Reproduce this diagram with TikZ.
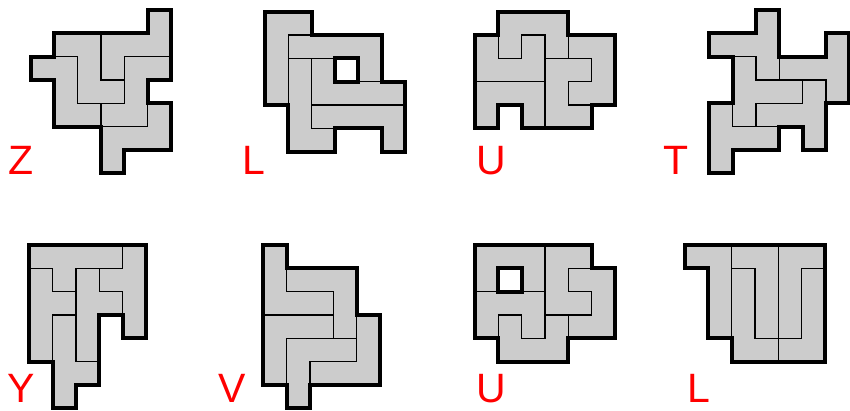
\documentclass[tikz,border=0pt]{standalone}
\usepackage{fontspec}
\setmainfont{Liberation Sans}
\newcommand*{\sq}{23.33pt}

\begin{document}
\begin{tikzpicture}[x=1pt,y=-1pt]
\tikzset{piece/.style={fill=black!20,draw=black,line width=1.5pt,line join=miter},
  rim/.style={draw=black,line width=4pt,line join=miter},
  lbl/.style={text=red,font=\fontsize{41}{41}\selectfont,anchor=base,inner sep=0pt}};

    \useasboundingbox (0,0) rectangle (850,411);

    % Z
    \begin{scope}[shift={(31pt,-10pt)},x=\sq,y=-\sq]
    \draw[piece] (5,0)--(6,0)--(6,2)--(4,2)--(4,3)--(3,3)--(3,1)--(5,1)--cycle;
    \draw[piece] (1,1)--(3,1)--(3,3)--(4,3)--(4,4)--(2,4)--(2,2)--(1,2)--cycle;
    \draw[piece] (0,2)--(2,2)--(2,4)--(3,4)--(3,5)--(1,5)--(1,3)--(0,3)--cycle;
    \draw[piece] (4,2)--(6,2)--(6,3)--(5,3)--(5,5)--(3,5)--(3,4)--(4,4)--cycle;
    \draw[piece] (5,4)--(6,4)--(6,6)--(4,6)--(4,7)--(3,7)--(3,5)--(5,5)--cycle;
    \draw[rim] (5,0)--(6,0)--(6,3)--(5,3)--(5,4)--(6,4)--(6,6)--(4,6)--(4,7)--(3,7)--(3,5)
        --(1,5)--(1,3)--(0,3)--(0,2)--(1,2)--(1,1)--(5,1)--cycle;
    \end{scope}
    \node[lbl] (labZ) at (21,175) {Z};

    % L
    \begin{scope}[shift={(265pt,-11.7pt)},x=\sq,y=-\sq]
    \draw[piece] (0,0)--(2,0)--(2,1)--(1,1)--(1,4)--(0,4)--cycle;
    \draw[piece] (1,1)--(5,1)--(5,3)--(4,3)--(4,2)--(1,2)--cycle;
    \draw[piece] (1,2)--(2,2)--(2,5)--(3,5)--(3,6)--(1,6)--cycle;
    \draw[piece] (2,2)--(3,2)--(3,3)--(6,3)--(6,4)--(2,4)--cycle;
    \draw[piece] (2,4)--(6,4)--(6,6)--(5,6)--(5,5)--(2,5)--cycle;
    \draw[rim,fill=white] (3,2) rectangle (4,3);
    \draw[rim] (0,0)--(2,0)--(2,1)--(5,1)--(5,3)--(6,3)--(6,6)--(5,6)--(5,5)--(3,5)--(3,6)
        --(1,6)--(1,4)--(0,4)--cycle;
    \end{scope}
    \node[lbl] (labL) at (253.5,175) {L};

    % U
    \begin{scope}[shift={(475pt,-11.7pt)},x=\sq,y=-\sq]
    \draw[piece] (1,0)--(4,0)--(4,2)--(3,2)--(3,1)--(2,1)--(2,2)--(1,2)--cycle;
    \draw[piece] (0,1)--(1,1)--(1,2)--(2,2)--(2,1)--(3,1)--(3,3)--(0,3)--cycle;
    \draw[piece] (0,3)--(3,3)--(3,5)--(2,5)--(2,4)--(1,4)--(1,5)--(0,5)--cycle;
    \draw[piece] (4,1)--(6,1)--(6,4)--(4,4)--(4,3)--(5,3)--(5,2)--(4,2)--cycle;
    \draw[piece] (3,2)--(5,2)--(5,3)--(4,3)--(4,4)--(5,4)--(5,5)--(3,5)--cycle;
    \draw[rim] (1,0)--(4,0)--(4,1)--(6,1)--(6,4)--(5,4)--(5,5)--(2,5)--(2,4)--(1,4)--(1,5)
        --(0,5)--(0,1)--(1,1)--cycle;
    \end{scope}
    \node[lbl] (labU) at (491,175) {U};

    % T
    \begin{scope}[shift={(709.3pt,-10pt)},x=\sq,y=-\sq]
    \draw[piece] (2,0)--(3,0)--(3,3)--(2,3)--(2,2)--(0,2)--(0,1)--(2,1)--cycle;
    \draw[piece] (5,1)--(6,1)--(6,4)--(5,4)--(5,3)--(3,3)--(3,2)--(5,2)--cycle;
    \draw[piece] (1,2)--(2,2)--(2,3)--(4,3)--(4,4)--(2,4)--(2,5)--(1,5)--cycle;
    \draw[piece] (4,3)--(5,3)--(5,6)--(4,6)--(4,5)--(2,5)--(2,4)--(4,4)--cycle;
    \draw[piece] (0,4)--(1,4)--(1,5)--(3,5)--(3,6)--(1,6)--(1,7)--(0,7)--cycle;
    \draw[rim] (2,0)--(3,0)--(3,2)--(5,2)--(5,1)--(6,1)--(6,4)--(5,4)--(5,6)--(4,6)--(4,5)
        --(3,5)--(3,6)--(1,6)--(1,7)--(0,7)--(0,4)--(1,4)--(1,2)--(0,2)--(0,1)--(2,1)--cycle;
    \end{scope}
    \node[lbl] (labT) at (676,175) {T};

    % Y
    \begin{scope}[shift={(29.3pt,-245pt)},x=\sq,y=-\sq]
    \draw[piece] (0,0)--(4,0)--(4,1)--(2,1)--(2,2)--(1,2)--(1,1)--(0,1)--cycle;
    \draw[piece] (4,0)--(5,0)--(5,4)--(4,4)--(4,2)--(3,2)--(3,1)--(4,1)--cycle;
    \draw[piece] (2,1)--(3,1)--(3,2)--(4,2)--(4,3)--(3,3)--(3,5)--(2,5)--cycle;
    \draw[piece] (0,1)--(1,1)--(1,2)--(2,2)--(2,3)--(1,3)--(1,5)--(0,5)--cycle;
    \draw[piece] (1,3)--(2,3)--(2,5)--(3,5)--(3,6)--(2,6)--(2,7)--(1,7)--cycle;
    \draw[rim] (0,0)--(5,0)--(5,4)--(4,4)--(4,3)--(3,3)--(3,6)--(2,6)--(2,7)--(1,7)--(1,5)
        --(0,5)--cycle;
    \end{scope}
    \node[lbl] (labY) at (21,402) {Y};

    % V
    \begin{scope}[shift={(263.3pt,-245pt)},x=\sq,y=-\sq]
    \draw[piece] (0,0)--(1,0)--(1,2)--(3,2)--(3,3)--(0,3)--cycle;
    \draw[piece] (1,1)--(4,1)--(4,4)--(3,4)--(3,2)--(1,2)--cycle;
    \draw[piece] (0,3)--(3,3)--(3,4)--(1,4)--(1,6)--(0,6)--cycle;
    \draw[piece] (1,4)--(4,4)--(4,5)--(2,5)--(2,7)--(1,7)--cycle;
    \draw[piece] (4,3)--(5,3)--(5,6)--(2,6)--(2,5)--(4,5)--cycle;
    \draw[rim] (0,0)--(1,0)--(1,1)--(4,1)--(4,3)--(5,3)--(5,6)--(2,6)--(2,7)--(1,7)--(1,6)
        --(0,6)--cycle;
    \end{scope}
    \node[lbl] (labV) at (232,402) {V};

    % U again
    \begin{scope}[shift={(475pt,-245pt)},x=\sq,y=-\sq]
    \draw[piece] (0,0)--(3,0)--(3,2)--(2,2)--(2,1)--(1,1)--(1,2)--(0,2)--cycle;
    \draw[piece] (0,2)--(3,2)--(3,4)--(2,4)--(2,3)--(1,3)--(1,4)--(0,4)--cycle;
    \draw[piece] (1,3)--(2,3)--(2,4)--(3,4)--(3,3)--(4,3)--(4,5)--(1,5)--cycle;
    \draw[piece] (3,0)--(5,0)--(5,1)--(4,1)--(4,2)--(5,2)--(5,3)--(3,3)--cycle;
    \draw[piece] (4,1)--(6,1)--(6,4)--(4,4)--(4,3)--(5,3)--(5,2)--(4,2)--cycle;
    \draw[rim,fill=white] (1,1) rectangle (2,2);
    \draw[rim] (0,0)--(5,0)--(5,1)--(6,1)--(6,4)--(4,4)--(4,5)--(1,5)--(1,4)--(0,4)--cycle;
    \end{scope}
    \node[lbl] (labUb) at (491,402) {U};

    % L again
    \begin{scope}[shift={(685pt,-245pt)},x=\sq,y=-\sq]
    \draw[piece] (0,0)--(2,0)--(2,4)--(1,4)--(1,1)--(0,1)--cycle;
    \draw[piece] (2,0)--(4,0)--(4,4)--(3,4)--(3,1)--(2,1)--cycle;
    \draw[piece] (2,1)--(3,1)--(3,4)--(4,4)--(4,5)--(2,5)--cycle;
    \draw[piece] (4,0)--(6,0)--(6,1)--(5,1)--(5,4)--(4,4)--cycle;
    \draw[piece] (5,1)--(6,1)--(6,5)--(4,5)--(4,4)--(5,4)--cycle;
    \draw[rim] (0,0)--(6,0)--(6,5)--(2,5)--(2,4)--(1,4)--(1,1)--(0,1)--cycle;
    \end{scope}
    \node[lbl] (labLb) at (699,402) {L};
\end{tikzpicture}
\end{document}
